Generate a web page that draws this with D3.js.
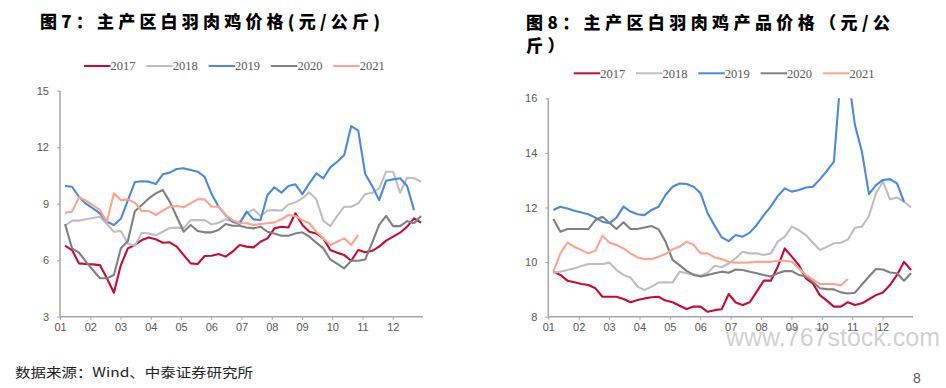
<!DOCTYPE html>
<html><head><meta charset="utf-8">
<script src="https://cdn.jsdelivr.net/npm/d3@7"></script>
<style>body{margin:0;background:#fff;} svg{display:block}</style>
</head><body>
<svg id="c" width="946" height="388"></svg>
<script>
const years = ["2017", "2018", "2019", "2020", "2021"];
const colors = ["#C90A32", "#BFBFBF", "#4A89DC", "#808080", "#FFA38F"];
const monthLabels = ["01","02","03","04","05","06","07","08","09","10","11","12"];
const leftYTicks = [3, 6, 9, 12, 15];
const rightYTicks = [8, 10, 12, 14, 16];

// 图7 weekly price (元/公斤)
const chicken2017 = [6.77,6.54,5.83,5.80,5.78,5.74,5.04,4.27,5.74,6.63,6.81,7.07,7.21,7.11,6.93,6.95,6.72,6.27,5.83,5.80,6.22,6.24,6.33,6.19,6.45,6.81,6.72,6.68,6.98,7.16,7.69,7.78,7.74,8.49,7.87,7.51,7.42,7.16,6.54,6.40,6.27,5.97,6.54,6.42,6.50,6.72,7.04,7.25,7.46,7.78,8.22,7.99];
const chicken2018 = [7.83,8.10,8.10,8.17,8.24,8.31,7.92,7.51,7.55,6.89,6.77,7.46,7.42,7.32,7.51,7.71,7.73,7.71,8.13,8.13,8.13,7.90,7.99,8.17,8.06,8.04,8.49,8.70,8.35,8.63,8.66,8.63,8.96,9.07,9.28,9.60,9.23,8.10,7.81,8.35,8.84,8.84,9.02,9.51,9.58,9.81,10.70,10.70,9.58,10.38,10.35,10.17];
const chicken2019 = [9.94,9.90,9.37,9.00,8.75,8.49,8.04,7.87,8.20,9.17,10.15,10.19,10.17,10.04,10.56,10.65,10.84,10.88,10.79,10.70,10.43,9.51,8.84,8.40,8.04,7.92,8.58,8.17,8.13,9.46,9.87,9.58,9.94,10.03,9.51,10.08,10.61,10.35,10.93,11.23,11.58,13.12,12.88,10.58,9.94,9.19,10.22,10.29,10.35,9.94,8.66];
const chicken2020 = [7.92,6.63,6.40,5.92,5.48,5.04,5.04,5.21,6.63,7.02,8.60,8.93,9.28,9.55,9.73,9.11,8.31,7.51,7.87,7.55,7.48,7.48,7.60,7.92,7.83,7.83,7.74,7.69,7.78,7.51,7.42,7.30,7.30,7.42,7.48,7.25,6.93,6.63,6.04,5.80,5.57,5.97,5.97,6.04,6.93,7.87,8.35,7.81,7.81,8.08,7.96,8.35];
const chicken2021 = [8.52,8.58,9.34,9.16,8.93,8.66,8.04,9.55,9.19,9.23,9.05,8.61,8.61,8.40,8.63,8.84,8.88,8.81,9.02,9.23,9.23,8.84,8.84,8.40,8.13,7.96,7.96,7.87,7.92,7.96,8.01,8.17,8.40,8.35,8.13,7.96,7.51,7.16,6.81,6.98,7.16,6.81,7.34];

// 图8 weekly product price (元/公斤)
const product2017 = [9.65,9.53,9.32,9.26,9.20,9.16,9.04,8.73,8.73,8.73,8.65,8.53,8.61,8.67,8.71,8.73,8.59,8.53,8.40,8.28,8.37,8.37,8.18,8.24,8.27,8.83,8.52,8.43,8.53,8.92,9.32,9.32,9.83,10.50,10.20,9.89,9.40,9.22,8.79,8.59,8.37,8.37,8.53,8.43,8.49,8.64,8.79,8.89,9.16,9.53,10.01,9.71];
const product2018 = [9.61,9.65,9.71,9.77,9.86,9.93,9.93,9.93,9.98,9.71,9.53,9.44,9.10,8.98,9.10,9.25,9.26,9.25,9.65,9.59,9.56,9.50,9.61,9.87,9.81,9.95,10.14,10.38,10.32,10.32,10.26,10.32,10.75,10.93,11.30,11.17,10.99,10.71,10.44,10.56,10.69,10.71,10.83,11.26,11.30,11.69,12.52,12.95,12.30,12.37,12.21,12.00];
const product2019 = [11.91,12.03,11.96,11.88,11.82,11.75,11.63,11.48,11.42,11.63,12.03,11.85,11.75,11.72,11.91,12.03,12.46,12.76,12.88,12.86,12.76,12.52,11.79,11.33,10.91,10.77,10.99,10.93,11.08,11.36,11.72,12.03,12.42,12.70,12.58,12.64,12.73,12.76,13.03,13.34,13.68,16.90,16.90,15.02,14.04,12.49,12.82,13.01,13.04,12.88,12.21];
const product2020 = [11.58,11.11,11.21,11.21,11.21,11.21,11.54,11.66,11.44,11.21,11.46,11.21,11.21,11.27,11.32,11.20,10.75,10.08,9.89,9.68,9.53,9.47,9.53,9.59,9.65,9.61,9.73,9.71,9.65,9.59,9.53,9.47,9.59,9.67,9.67,9.53,9.47,9.28,9.04,9.01,9.00,8.89,8.85,8.88,9.18,9.47,9.75,9.73,9.62,9.59,9.32,9.59];
const product2021 = [9.65,10.32,10.71,10.56,10.44,10.32,10.42,10.97,10.71,10.63,10.50,10.32,10.17,10.11,10.11,10.20,10.30,10.47,10.56,10.75,10.63,10.32,10.32,10.17,10.11,10.01,9.98,9.98,9.99,10.01,10.01,10.01,10.05,10.05,10.01,9.77,9.53,9.37,9.20,9.20,9.20,9.14,9.38];

const svg = d3.select("#c");
const axisColor = "#A6A6A6";
const labelColor = "#595959";

function drawChart(cfg) {
  const g = svg.append("g");
  // title
  cfg.titleLines.forEach((t, i) => {
    const tt = g.append("text")
      .attr("x", cfg.titleX).attr("y", cfg.titleY + i * 23.5)
      .attr("font-family", "'Noto Sans CJK SC', sans-serif")
      .attr("font-weight", 900).attr("font-size", 17).attr("fill", "#000")
      .text(t);
    if (cfg.titleLens[i]) tt.attr("textLength", cfg.titleLens[i]).attr("lengthAdjust", "spacing");
    else tt.attr("letter-spacing", 4.5);
  });
  // legend
  years.forEach((yr, i) => {
    const lx = cfg.legendX + i * 62.3;
    g.append("line").attr("x1", lx).attr("x2", lx + 26.5)
      .attr("y1", cfg.legendY).attr("y2", cfg.legendY)
      .attr("stroke", colors[i]).attr("stroke-width", 2);
    g.append("text").attr("x", lx + 26.5).attr("y", cfg.legendY + 4.2)
      .attr("font-family", "'Liberation Serif', 'Times New Roman', serif")
      .attr("font-size", 12.5).attr("fill", labelColor).text(yr);
  });

  const x = d3.scaleLinear().domain([0, 12]).range([cfg.x0, cfg.x1]);
  const xw = d3.scaleLinear().domain([0, 52]).range([cfg.x0, cfg.x1]);
  const y = d3.scaleLinear().domain(cfg.yDomain).range([cfg.yBottom, cfg.yTop]);

  // y axis
  const yAxis = g.append("g").attr("transform", `translate(${cfg.x0},0)`)
    .call(d3.axisLeft(y).tickValues(cfg.yTicks).tickSize(3).tickPadding(8));
  yAxis.select(".domain").attr("stroke", axisColor).attr("stroke-width", 1.5)
    .attr("d", `M0,${cfg.yTop}V${cfg.yBottom}`);
  yAxis.selectAll(".tick line").attr("stroke", axisColor);
  yAxis.selectAll(".tick text").attr("fill", labelColor)
    .attr("font-family", "'Liberation Sans', Arial, sans-serif").attr("font-size", 11);

  // x axis
  const xAxis = g.append("g").attr("transform", `translate(0,${cfg.yBottom})`)
    .call(d3.axisBottom(x).tickValues(d3.range(12)).tickFormat(i => monthLabels[i]).tickSize(3).tickPadding(4));
  xAxis.select(".domain").attr("stroke", axisColor).attr("stroke-width", 1.5)
    .attr("d", `M${cfg.x0},0H${cfg.x1}`);
  xAxis.selectAll(".tick line").attr("stroke", axisColor);
  xAxis.selectAll(".tick text").attr("fill", labelColor)
    .attr("font-family", "'Liberation Sans Narrow', 'Arial Narrow', 'Liberation Sans', sans-serif")
    .attr("font-size", 11);

  // clip
  const clipId = "clip" + cfg.id;
  g.append("clipPath").attr("id", clipId).append("rect")
    .attr("x", cfg.x0).attr("y", cfg.yTop).attr("width", cfg.x1 - cfg.x0 + 2)
    .attr("height", cfg.yBottom - cfg.yTop);
  const lines = g.append("g").attr("clip-path", `url(#${clipId})`);
  const line = d3.line().x((d, i) => xw(i + 0.72)).y(d => y(d));
  cfg.series.forEach((s, i) => {
    lines.append("path").datum(s).attr("d", line)
      .attr("fill", "none").attr("stroke", colors[i])
      .attr("stroke-width", 2.1).attr("stroke-linejoin", "round");
  });
}

// watermark drawn first so it sits behind the chart
svg.append("text").attr("x", 726).attr("y", 346)
  .attr("font-family", "'Liberation Sans', Arial, sans-serif").attr("font-size", 25)
  .attr("fill", "#C8C8C8").attr("fill-opacity", 0.85)
  .attr("textLength", 214).attr("lengthAdjust", "spacingAndGlyphs")
  .text("www.767stock.com");

drawChart({
  id: "L", titleLines: ["图7：主产区白羽肉鸡价格(元/公斤)"], titleLens: [340],
  titleX: 40, titleY: 28,
  legendX: 84, legendY: 66,
  x0: 60, x1: 423, yDomain: [3, 15], yTop: 90.7, yBottom: 316.7, yTicks: leftYTicks,
  series: [chicken2017, chicken2018, chicken2019, chicken2020, chicken2021]
});
drawChart({
  id: "R", titleLines: ["图8：主产区白羽肉鸡产品价格（元/公", "斤）"], titleLens: [364, 0],
  titleX: 526, titleY: 28.5,
  legendX: 573.7, legendY: 73.3,
  x0: 548.3, x1: 913, yDomain: [8, 16], yTop: 98.3, yBottom: 316.7, yTicks: rightYTicks,
  series: [product2017, product2018, product2019, product2020, product2021]
});

// source and page number
svg.append("text").attr("x", 15).attr("y", 377)
  .attr("font-family", "'Noto Sans CJK SC', sans-serif").attr("font-size", 13)
  .attr("fill", "#222").attr("textLength", 238).attr("lengthAdjust", "spacingAndGlyphs")
  .text("数据来源：Wind、中泰证券研究所");
svg.append("text").attr("x", 913).attr("y", 383)
  .attr("font-family", "'Liberation Sans', Arial, sans-serif").attr("font-size", 14)
  .attr("fill", labelColor).text("8");
</script>
</body></html>
